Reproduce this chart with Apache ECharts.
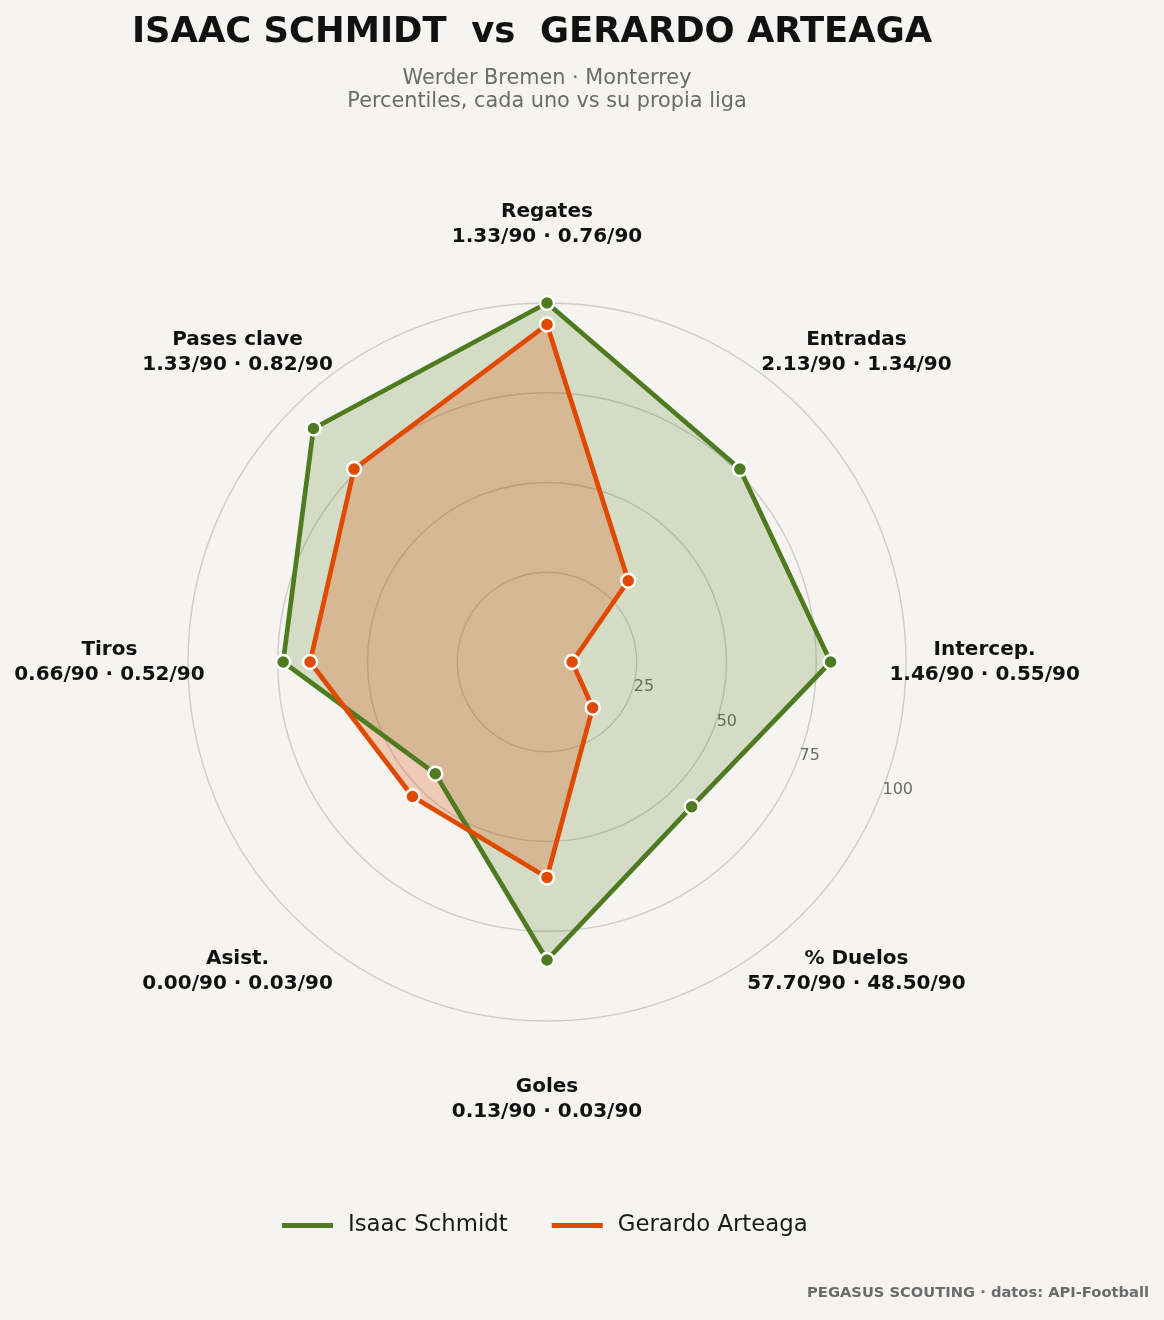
<!DOCTYPE html>
<html>
<head>
<meta charset="utf-8">
<script src="https://cdn.jsdelivr.net/npm/echarts@6/dist/echarts.min.js"></script>
<style>
  html, body { margin: 0; padding: 0; background: #f5f4f1; }
  #chart { width: 1164px; height: 1320px; }
</style>
</head>
<body>
<div id="chart"></div>
<script>
	'use strict';

	/* data, clockwise from the top */
	var categories = ['Regates', 'Entradas', 'Intercep.', '% Duelos', 'Goles', 'Asist.', 'Tiros', 'Pases clave'];
	var schmidtPct = [100, 76, 79, 57, 83, 44, 73.5, 92];
	var arteagaPct = [94, 32, 7, 18, 60, 53, 66, 76];
	var schmidtPer90 = [1.33, 2.13, 1.46, 57.70, 0.13, 0.00, 0.66, 1.33];
	var arteagaPer90 = [0.76, 1.34, 0.55, 48.50, 0.03, 0.03, 0.52, 0.82];
	var radiusTicks = [25, 50, 75, 100];

	var GREEN = '#4e7b20';
	var ORANGE = '#e04a00';
	var FONT = 'DejaVu Sans';
	var CENTER = [547, 662];
	var RADIUS = 359;

	/* radar places indicators counter-clockwise, so walk the arrays backwards */
	var ccw = [0];
	for (var i = categories.length - 1; i > 0; i--) ccw.push(i);
	function ccwValues(arr) { return ccw.map(function(k) { return arr[k]; }); }

	/* fills go under both outlines, like the original */
	function areaSeries(name, values, color, alpha) {
		return {
			type: 'radar',
			name: name,
			symbol: 'none',
			itemStyle: { color: color },
			lineStyle: { width: 0, opacity: 0 },
			areaStyle: { color: color, opacity: alpha },
			data: [{ name: name, value: ccwValues(values) }]
		};
	}
	function lineSeries(name, values, color) {
		return {
			type: 'radar',
			name: name,
			symbol: 'circle',
			symbolSize: 14,
			itemStyle: { color: color, borderColor: '#ffffff', borderWidth: 2.5 },
			lineStyle: { color: color, width: 4.7 },
			data: [{ name: name, value: ccwValues(values) }]
		};
	}

	var chart = echarts.init(document.getElementById('chart'));

	var option = {
		backgroundColor: '#f5f4f1',
		animation: false,
		textStyle: { fontFamily: FONT },
		title: [
			{
				text: 'ISAAC SCHMIDT  vs  GERARDO ARTEAGA',
				left: 527,
				top: 10,
				textAlign: 'center',
				textStyle: { fontFamily: FONT, fontSize: 35.4, fontWeight: 'bold', color: '#111' }
			},
			{
				text: 'Werder Bremen · Monterrey\nPercentiles, cada uno vs su propia liga',
				left: 542,
				top: 62,
				textAlign: 'center',
				textStyle: { fontFamily: FONT, fontSize: 20.8, lineHeight: 23, fontWeight: 'normal', color: '#6b6b6b' }
			},
			{
				text: 'PEGASUS SCOUTING · datos: API-Football',
				right: 10,
				bottom: 14,
				textStyle: { fontFamily: FONT, fontSize: 14.7, fontWeight: 'bold', color: '#6b6b6b' }
			}
		],
		legend: {
			data: ['Isaac Schmidt', 'Gerardo Arteaga'],
			left: 277,
			top: 1209,
			icon: 'rect',
			itemWidth: 51,
			itemHeight: 5,
			itemGap: 44,
			textStyle: { fontFamily: FONT, fontSize: 22.8, color: '#1a1a1a', padding: [0, 0, 0, 10] }
		},
		radar: {
			center: CENTER,
			radius: RADIUS,
			startAngle: 90,
			shape: 'circle',
			splitNumber: 4,
			indicator: ccw.map(function(k) { return { name: categories[k], min: 0, max: 100 }; }),
			axisName: { show: false },
			axisLine: { show: false },
			axisTick: { show: false },
			axisLabel: { show: false },
			splitArea: { show: false },
			splitLine: { lineStyle: { color: 'rgba(140,140,140,0.38)', width: 1.4 } }
		},
		polar: [
			{ center: CENTER, radius: RADIUS },
			{ center: CENTER, radius: RADIUS }
		],
		angleAxis: [
			{
				polarIndex: 0,
				type: 'value', min: 0, max: 360,
				startAngle: -22.5,
				axisLine: { show: false }, axisTick: { show: false },
				axisLabel: { show: false }, splitLine: { show: false }
			},
			{
				polarIndex: 1,
				type: 'category',
				data: categories,
				startAngle: 112.5,
				clockwise: true,
				axisLine: { show: false }, axisTick: { show: false },
				axisLabel: { show: false }, splitLine: { show: false }
			}
		],
		radiusAxis: [
			{
				polarIndex: 0,
				type: 'value', min: 0, max: 100, interval: 25,
				axisLine: { show: false }, axisTick: { show: false }, splitLine: { show: false },
				axisLabel: {
					showMinLabel: false,
					margin: 10,
					fontFamily: FONT,
					fontSize: 16,
					color: '#6b6b6b',
					formatter: function(v) { return radiusTicks.indexOf(v) >= 0 ? String(v) : ''; }
				}
			},
			{
				polarIndex: 1,
				type: 'value', min: 0, max: 100,
				axisLine: { show: false }, axisTick: { show: false },
				axisLabel: { show: false }, splitLine: { show: false }
			}
		],
		series: [
			areaSeries('Isaac Schmidt', schmidtPct, GREEN, 0.2),
			areaSeries('Gerardo Arteaga', arteagaPct, ORANGE, 0.25),
			lineSeries('Isaac Schmidt', schmidtPct, GREEN),
			lineSeries('Gerardo Arteaga', arteagaPct, ORANGE),
			{
				/* axis names, centred just outside the outer ring */
				type: 'scatter',
				coordinateSystem: 'polar',
				polarIndex: 1,
				silent: true,
				clip: false,
				symbolSize: 1,
				itemStyle: { color: 'rgba(0,0,0,0)' },
				data: categories.map(function(c) { return [121.9, c]; }),
				label: {
					show: true,
					position: 'inside',
					fontFamily: FONT,
					fontSize: 20,
					fontWeight: 'bold',
					lineHeight: 25,
					color: '#111111',
					opacity: 1,
					textBorderWidth: 0,
					align: 'center',
					formatter: function(p) {
						var k = p.dataIndex;
						return categories[k] + '\n' + schmidtPer90[k].toFixed(2) + '/90 · ' + arteagaPer90[k].toFixed(2) + '/90';
					}
				}
			}
		]
	};

	chart.setOption(option);
</script>
</body>
</html>
